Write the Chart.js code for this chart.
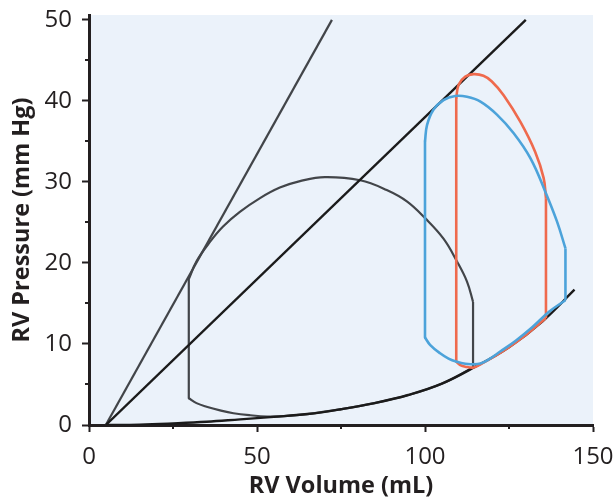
<!DOCTYPE html>
<html>
<head>
<meta charset="utf-8">
<script src="https://cdn.jsdelivr.net/npm/chart.js@4.4.1/dist/chart.umd.min.js"></script>
<style>
  html, body { margin: 0; padding: 0; background: #ffffff; }
  #wrap { width: 613px; height: 501px; position: relative; }
</style>
</head>
<body>
<div id="wrap"><canvas id="pv"></canvas></div>
<script>
// axis ticks
const volTicks = [0, 50, 100, 150]
const volMinor = [25, 75, 125]
const presTicks = [0, 10, 20, 30, 40, 50]
const presMinor = [5, 15, 25, 35, 45]

// end-systolic pressure-volume lines
const espvrSteepVol = [5, 72.3]
const espvrSteepPres = [0, 50]
const espvrVol = [5, 130]
const espvrPres = [0, 50]

// end-diastolic pressure-volume relation
const edpvrVol = [5, 15, 25, 35, 45, 55, 65, 75, 85, 95, 105, 115, 125, 135, 144.5]
const edpvrPres = [0, 0.05, 0.2, 0.4, 0.7, 1.0, 1.35, 1.95, 2.7, 3.7, 5.1, 7.2, 9.6, 12.8, 16.7]

// gray loop
const grayEjVol = [114.3, 112.5, 109.5, 105.5, 100.1, 94.6, 88.6, 80.7, 70.2, 62.8, 56.8, 50.9, 44.9, 39.9, 36.0, 32.0, 29.7]
const grayEjPres = [15.2, 17.7, 20.2, 23.0, 25.5, 27.6, 29.0, 30.2, 30.6, 30.1, 29.3, 28.0, 26.3, 24.5, 22.6, 20.2, 18.0]
const grayFillVol = [29.7, 32, 35, 39, 43, 48, 53, 58, 65, 75, 85, 95, 105, 114.3]
const grayFillPres = [3.3, 2.7, 2.25, 1.8, 1.45, 1.2, 1.05, 1.1, 1.35, 1.95, 2.7, 3.7, 5.1, 7.1]

// red loop
const redEjVol = [136.0, 135.3, 132.8, 128.4, 123.4, 119.9, 117.4, 114.5, 112.0, 110.0, 109.3]
const redEjPres = [28.0, 30.5, 33.7, 37.4, 40.7, 42.4, 43.1, 43.3, 43.0, 42.0, 40.3]
const redFillVol = [109.3, 110.5, 112, 114.5, 117, 120, 125, 130, 136.0]
const redFillPres = [7.8, 7.4, 7.2, 7.1, 7.6, 8.3, 9.6, 11.1, 13.2]

// blue loop
const blueEjVol = [141.8, 139.3, 135.8, 131.4, 126.4, 121.4, 116.5, 112.5, 109.0, 105.5, 102.5, 100.6, 100.0]
const blueEjPres = [21.8, 25.1, 28.8, 32.9, 36.0, 38.3, 39.9, 40.5, 40.6, 40.1, 38.9, 37.0, 35.0]
const blueFillVol = [100.0, 101.5, 104.5, 107, 109.5, 112, 114, 116.5, 119, 122.5, 127, 132, 137, 141.8]
const blueFillPres = [10.8, 9.9, 8.85, 8.2, 7.8, 7.55, 7.5, 7.6, 8.1, 9.1, 10.4, 12.1, 14.0, 15.4]

const INK = '#231f20'
const GRAY = '#424549'
const BLACK = '#1b1b1b'
const RED = '#ef6a4d'
const BLUE = '#4ca3da'

const pts = (xs, ys) => xs.map((x, i) => ({ x: x, y: ys[i] }))

function line(xs, ys, color, width, tension) {
  return {
    data: pts(xs, ys),
    borderColor: color,
    borderWidth: width,
    tension: tension,
    pointRadius: 0,
    fill: false,
    borderCapStyle: 'butt',
    borderJoinStyle: 'round'
  }
}

// a loop = smooth ejection arc + smooth filling curve + two straight isovolumic sides
function loop(ejV, ejP, fillV, fillP, color, width) {
  const n = fillV.length - 1
  const m = ejV.length - 1
  return [
    line(ejV, ejP, color, width, 0.4),
    line(fillV, fillP, color, width, 0.4),
    line([fillV[n], ejV[0]], [fillP[n], ejP[0]], color, width, 0),
    line([ejV[m], fillV[0]], [ejP[m], fillP[0]], color, width, 0)
  ]
}

const plotBackground = {
  id: 'plotBackground',
  beforeDraw(chart) {
    const { ctx, chartArea: a } = chart
    ctx.save()
    ctx.fillStyle = '#ebf2fa'
    ctx.fillRect(a.left, a.top, a.right - a.left, a.bottom - a.top)
    ctx.restore()
  }
}

const minorTicks = {
  id: 'minorTicks',
  afterDraw(chart) {
    const { ctx, chartArea: a, scales } = chart
    ctx.save()
    ctx.strokeStyle = INK
    ctx.lineWidth = 2
    ctx.beginPath()
    volMinor.forEach(v => {
      const px = Math.round(scales.x.getPixelForValue(v))
      ctx.moveTo(px, a.bottom)
      ctx.lineTo(px, a.bottom + 4)
    })
    presMinor.forEach(v => {
      const py = Math.round(scales.y.getPixelForValue(v))
      ctx.moveTo(a.left - 4, py)
      ctx.lineTo(a.left, py)
    })
    ctx.stroke()
    ctx.restore()
  }
}

const tickFont = { family: '"Open Sans", sans-serif', size: 24 }
const titleFont = { family: '"Open Sans", sans-serif', size: 23.5, weight: 'bold' }

new Chart(document.getElementById('pv'), {
  type: 'scatter',
  data: {
    datasets: [
      ...loop(blueEjVol, blueEjPres, blueFillVol, blueFillPres, BLUE, 2.6),
      ...loop(redEjVol, redEjPres, redFillVol, redFillPres, RED, 2.6),
      line(espvrVol, espvrPres, BLACK, 2.4, 0),
      line(edpvrVol, edpvrPres, BLACK, 2.4, 0.4),
      line(espvrSteepVol, espvrSteepPres, GRAY, 2.2, 0),
      ...loop(grayEjVol, grayEjPres, grayFillVol, grayFillPres, GRAY, 2.2)
    ].map(d => ({ ...d, showLine: true }))
  },
  options: {
    responsive: true,
    maintainAspectRatio: false,
    animation: false,
    layout: { padding: 0 },
    plugins: {
      legend: { display: false },
      tooltip: { enabled: false }
    },
    scales: {
      x: {
        type: 'linear',
        min: 0,
        max: 150,
        afterBuildTicks: s => { s.ticks = volTicks.map(v => ({ value: v })) },
        afterFit: s => {
          s.height = 76
          s.paddingLeft = 0
          s.paddingRight = 20
        },
        border: { display: true, color: INK, width: 3 },
        grid: { drawOnChartArea: false, drawTicks: true, tickLength: 7, tickColor: INK, tickWidth: 2 },
        ticks: { color: INK, font: tickFont, padding: 11, maxRotation: 0 },
        title: { display: true, text: 'RV Volume (mL)', color: INK, font: titleFont, padding: { top: 0, bottom: 1 } }
      },
      y: {
        type: 'linear',
        min: 0,
        max: 50.6,
        afterBuildTicks: s => { s.ticks = presTicks.map(v => ({ value: v })) },
        afterFit: s => {
          s.width = 89
          s.paddingTop = 15
          s.paddingBottom = 0
        },
        border: { display: true, color: INK, width: 3 },
        grid: { drawOnChartArea: false, drawTicks: true, tickLength: 7, tickColor: INK, tickWidth: 2 },
        ticks: { color: INK, font: tickFont, padding: 10 },
        title: { display: true, text: 'RV Pressure (mm Hg)', color: INK, font: titleFont, padding: { top: 8, bottom: 0 } }
      }
    }
  },
  plugins: [plotBackground, minorTicks]
})
</script>
</body>
</html>
